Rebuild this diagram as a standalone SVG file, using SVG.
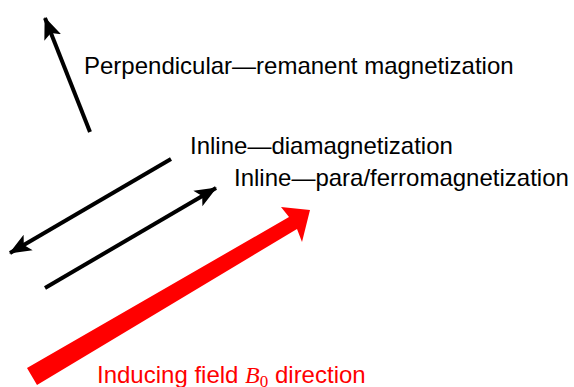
<svg xmlns="http://www.w3.org/2000/svg" width="574" height="387" viewBox="0 0 574 387">
<style>
.lbl{font-family:"Liberation Sans",Arial,sans-serif;font-size:24px;fill:#000}
.red{fill:#ff0000}
.ar{stroke:#000;stroke-width:4;fill:none;marker-end:url(#ah)}
</style>
<defs>
<marker id="ah" markerUnits="userSpaceOnUse" markerWidth="24" markerHeight="24" viewBox="0 0 24 24" refX="21" refY="12" orient="auto">
<path d="M0,3 L22,12 L0,21 L5,12 Z" fill="#000"/>
</marker>
</defs>
<rect width="574" height="387" fill="#fff"/>
<g id="connectors">
<line class="ar" x1="90" y1="132" x2="45" y2="18"/>
<line class="ar" x1="171" y1="159" x2="10" y2="253"/>
<line class="ar" x1="45" y1="288" x2="216" y2="188"/>
<polygon id="inducing-arrow" fill="#ff0000" points="27,368 289,217 281,207 310,210 302,242 297,229 37,385"/>
</g>
<g id="perp"><text class="lbl" x="84" y="74">Perpendicular—remanent magnetization</text></g>
<g id="dia"><text class="lbl" x="190" y="154">Inline—diamagnetization</text></g>
<g id="para"><text class="lbl" x="234" y="186">Inline—para/ferromagnetization</text></g>
<g id="field"><text class="lbl red" x="97" y="383">Inducing field <tspan font-family="'Liberation Serif',serif" font-style="italic">B</tspan><tspan font-family="'Liberation Serif',serif" font-size="17" dy="4">0</tspan><tspan dy="-4"> direction</tspan></text></g>
</svg>
